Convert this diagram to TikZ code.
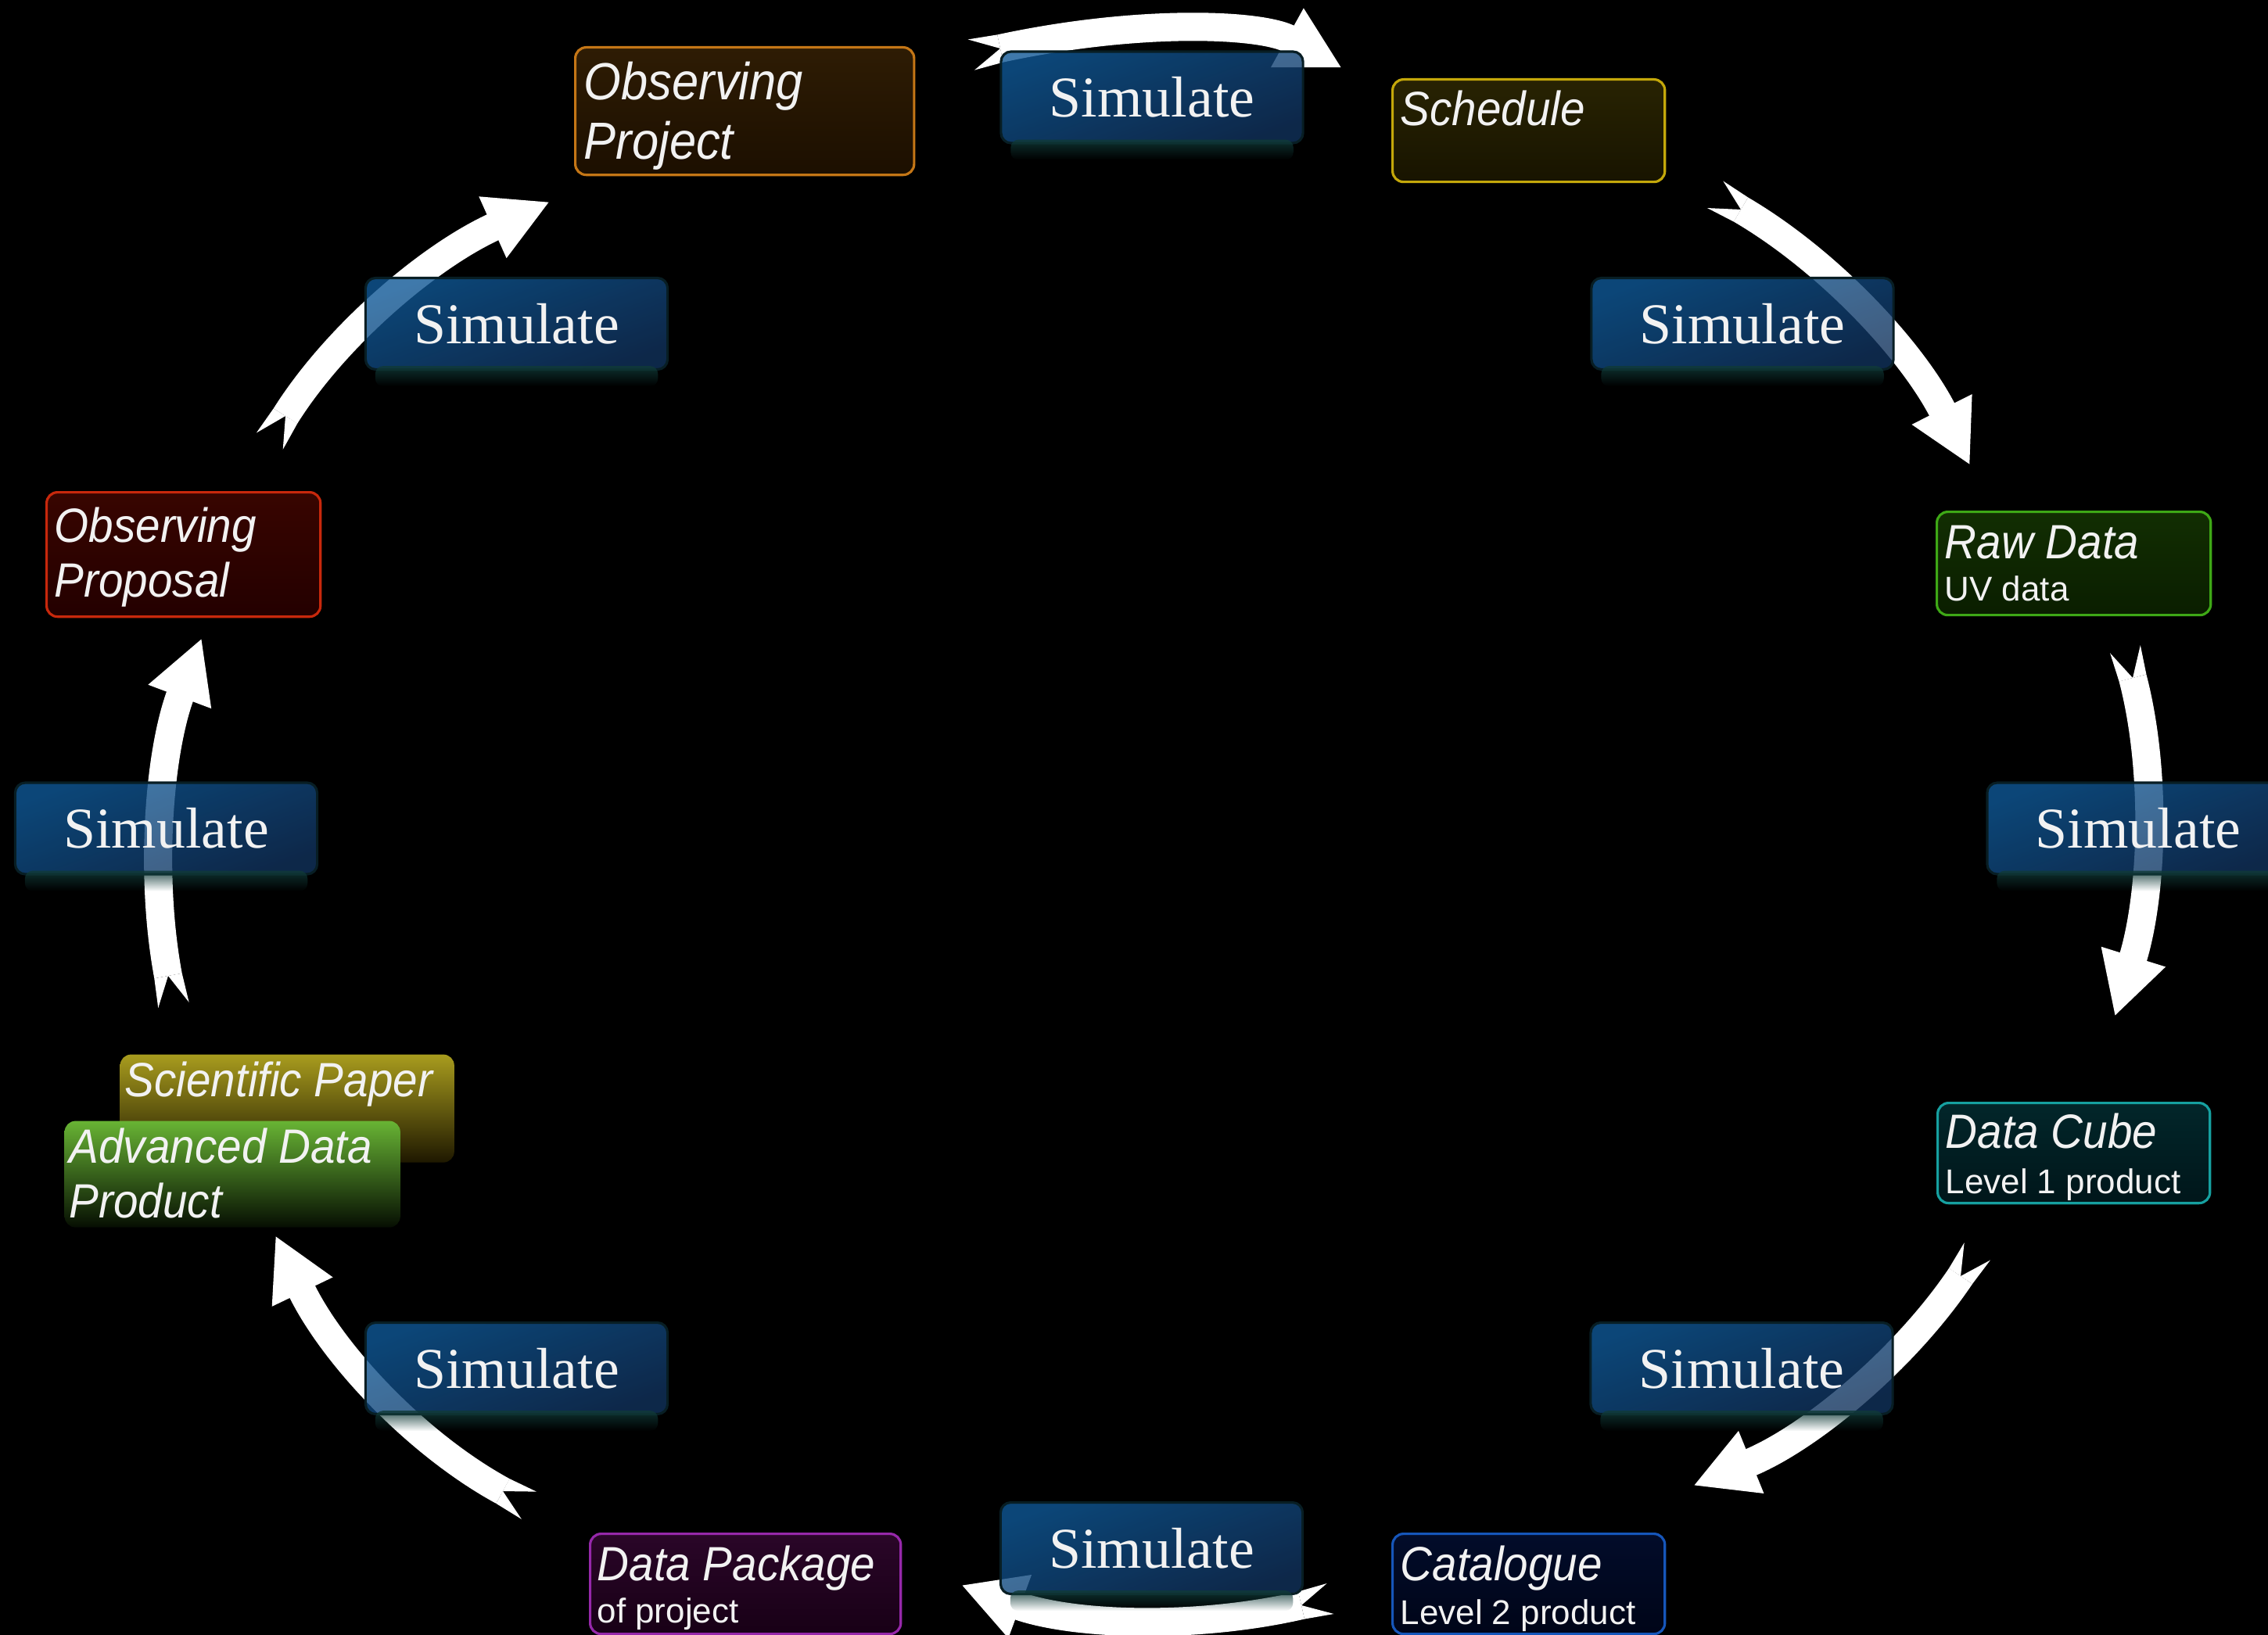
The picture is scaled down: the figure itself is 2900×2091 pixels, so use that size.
\documentclass[tikz,border=0pt]{standalone}
\usepackage{fontspec}
\newfontfamily\labelfont{Liberation Sans}[FakeStretch=0.92]
\newfontfamily\subfont{Liberation Sans}
\newfontfamily\stepfont{Liberation Serif}
\usetikzlibrary{arrows.meta,calc,fadings}

\definecolor{txt}{RGB}{242,242,242}
\definecolor{simtop}{RGB}{16,88,150}
\definecolor{simbot}{RGB}{17,50,92}
\definecolor{simedge}{RGB}{8,30,36}
\definecolor{glowc}{RGB}{16,58,56}
\definecolor{opedge}{RGB}{196,118,22}
\definecolor{optop}{RGB}{46,28,4}
\definecolor{opbot}{RGB}{28,15,0}
\definecolor{scedge}{RGB}{196,168,10}
\definecolor{sctop}{RGB}{40,35,2}
\definecolor{scbot}{RGB}{24,20,0}
\definecolor{rdedge}{RGB}{62,168,22}
\definecolor{rdtop}{RGB}{18,46,2}
\definecolor{rdbot}{RGB}{10,30,0}
\definecolor{dcedge}{RGB}{22,160,160}
\definecolor{dctop}{RGB}{2,38,42}
\definecolor{dcbot}{RGB}{0,22,26}
\definecolor{caedge}{RGB}{22,86,186}
\definecolor{catop}{RGB}{2,12,42}
\definecolor{cabot}{RGB}{0,5,24}
\definecolor{dpedge}{RGB}{150,40,170}
\definecolor{dptop}{RGB}{42,6,40}
\definecolor{dpbot}{RGB}{24,0,22}
\definecolor{pledge}{RGB}{200,40,12}
\definecolor{pltop}{RGB}{56,5,0}
\definecolor{plbot}{RGB}{36,0,0}
\definecolor{sptop}{RGB}{168,156,30}
\definecolor{spmid}{RGB}{106,92,12}
\definecolor{spbot}{RGB}{30,24,0}
\definecolor{adtop}{RGB}{104,180,52}
\definecolor{admid}{RGB}{36,84,16}
\definecolor{adbot}{RGB}{6,14,2}

% swallow-tail end of a block arrow: #1 = notch point, #2 = direction point
\newcommand\forktail[2]{%
  \coordinate (tb) at ($(#1)!-0.38cm!(#2)$);
  \fill[white] ($(tb)!0.20cm!90:(#2)$) -- ($(#1)!0.18cm!90:(#2)$)
    -- ($(#1)!0.18cm!-90:(#2)$) -- ($(tb)!0.20cm!-90:(#2)$) -- (#1) -- cycle;
}

\begin{document}
\begin{tikzpicture}[x=0.01cm, y=-0.01cm,
  sim/.style={draw=simedge, line width=0.9pt, rounded corners=0.13cm,
    top color=simtop, bottom color=simbot, shading angle=20,
    fill opacity=0.8, text opacity=1, minimum width=3.86cm,
    minimum height=1.17cm, inner sep=0pt, text=txt,
    font=\stepfont\fontsize{21}{25}\selectfont},
  box/.style={rounded corners=0.14cm, line width=0.9pt, anchor=north west,
    inner sep=0pt},
  ttl/.style={anchor=base west, inner sep=0pt, text=txt,
    font=\labelfont\itshape\fontsize{17.5}{20}\selectfont},
  bigttl/.style={ttl, font=\labelfont\itshape\fontsize{19}{22}\selectfont},
  sub/.style={anchor=base west, inner sep=0pt, text=txt,
    font=\subfont\fontsize{12.5}{15}\selectfont},
  flow/.style={white, line width=0.36cm,
    -{Triangle[length=0.8cm,width=0.8cm]}},
  glow/.style={glowc, fill opacity=0.85, rounded corners=0.1cm,
    path fading=south},
]
\useasboundingbox (0,0) rectangle (2900,2091);
\fill[black] (0,0) rectangle (2900,2091);
\clip (0,0) rectangle (2900,2091);

% ---- block arrows of the cycle ----
\coordinate (t1) at (1279,62);   \coordinate (h1) at (1716,87);
\coordinate (t2) at (2226,268);  \coordinate (h2) at (2519,595);
\coordinate (t3) at (2727,867);  \coordinate (h3) at (2704,1300);
\coordinate (t4) at (2507,1632); \coordinate (h4) at (2165,1900);
\coordinate (t5) at (1664,2053); \coordinate (h5) at (1229,2027);
\coordinate (t6) at (643,1907);  \coordinate (h6) at (352,1580);
\coordinate (t7) at (215,1248);  \coordinate (h7) at (258,816);
\coordinate (t8) at (365,532);   \coordinate (h8) at (703,258);

\draw[flow] (t1) .. controls (1455,24) and (1613,30) .. (h1);
\forktail{t1}{1455,24}
\draw[flow] (t2) .. controls (2337,333) and (2445,448) .. (h2);
\forktail{t2}{2337,333}
\draw[flow] (t3) .. controls (2758,986) and (2753,1143) .. (h3);
\forktail{t3}{2758,986}
\draw[flow] (t4) .. controls (2435,1739) and (2313,1840) .. (h4);
\forktail{t4}{2435,1739}
\draw[flow] (t5) .. controls (1529,2084) and (1371,2079) .. (h5);
\forktail{t5}{1529,2084}
\draw[flow] (t6) .. controls (533,1847) and (425,1732) .. (h6);
\forktail{t6}{533,1847}
\draw[flow] (t7) .. controls (191,1119) and (203,962) .. (h7);
\forktail{t7}{191,1119}
\draw[flow] (t8) .. controls (429,430) and (549,327) .. (h8);
\forktail{t8}{429,430}

% ---- simulation steps ----
\node[sim] (s1) at (1473,124.5) {Simulate};
\node[sim] (s2) at (2228,414) {Simulate};
\node[sim] (s3) at (2734,1059.5) {Simulate};
\node[sim] (s4) at (2227,1750) {Simulate};
\node[sim] (s5) at (1472.5,1980) {Simulate};
\node[sim] (s6) at (660.5,1750) {Simulate};
\node[sim] (s7) at (212.5,1059.5) {Simulate};
\node[sim] (s8) at (660.5,414) {Simulate};
\foreach \s in {s1,s2,s3,s4,s5,s6,s7,s8}
  \fill[glow] ($(\s.south west)+(14,-6)$) rectangle ($(\s.south east)+(-14,20)$);

% ---- data products ----
\node[box, draw=opedge, top color=optop, bottom color=opbot,
  minimum width=4.33cm, minimum height=1.63cm] (op) at (734,59) {};
\node[bigttl] (opa) at (746,128) {Observing};
\node[bigttl] (opb) at (746,203) {Project};

\node[box, draw=scedge, top color=sctop, bottom color=scbot,
  minimum width=3.48cm, minimum height=1.31cm] (sch) at (1779,100) {};
\node[ttl] (scha) at (1790,160) {Schedule};

\node[box, draw=rdedge, top color=rdtop, bottom color=rdbot,
  minimum width=3.50cm, minimum height=1.32cm] (raw) at (2475,653) {};
\node[ttl] (rawa) at (2486,714) {Raw Data};
\node[sub] (rawb) at (2486,768) {UV data};

\node[box, draw=dcedge, top color=dctop, bottom color=dcbot,
  minimum width=3.48cm, minimum height=1.28cm] (cube) at (2476,1409) {};
\node[ttl] (cubea) at (2487,1468) {Data Cube};
\node[sub] (cubeb) at (2487,1526) {Level 1 product};

\node[box, draw=caedge, top color=catop, bottom color=cabot,
  minimum width=3.48cm, minimum height=1.28cm] (cat) at (1779,1960) {};
\node[ttl] (cata) at (1790,2021) {Catalogue};
\node[sub] (catb) at (1790,2077) {Level 2 product};

\node[box, draw=dpedge, top color=dptop, bottom color=dpbot,
  minimum width=3.97cm, minimum height=1.28cm] (pkg) at (753,1960) {};
\node[ttl] (pkga) at (763,2021) {Data Package};
\node[sub] (pkgb) at (763,2075) {of project};

\node[box, top color=sptop, middle color=spmid, bottom color=spbot,
  minimum width=4.27cm, minimum height=1.38cm] (sp) at (152,1347) {};
\node[ttl] (spa) at (159,1402) {Scientific Paper};

\node[box, top color=adtop, middle color=admid, bottom color=adbot,
  minimum width=4.29cm, minimum height=1.36cm] (adp) at (81,1432) {};
\node[ttl] (adpa) at (88,1487) {Advanced Data};
\node[ttl] (adpb) at (88,1557) {Product};

\node[box, draw=pledge, top color=pltop, bottom color=plbot,
  minimum width=3.50cm, minimum height=1.59cm] (prop) at (58,628) {};
\node[ttl] (propa) at (69,693) {Observing};
\node[ttl] (propb) at (69,763) {Proposal};
\end{tikzpicture}
\end{document}
